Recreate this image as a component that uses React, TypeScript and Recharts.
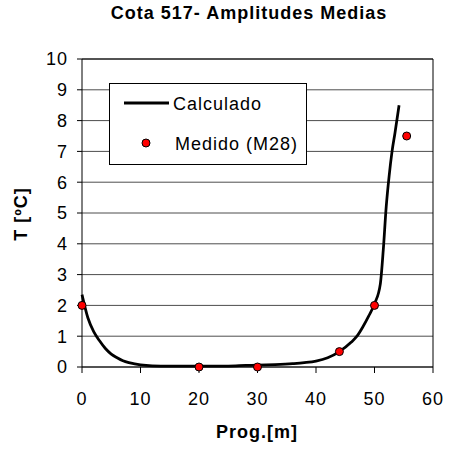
import React from "react";
import {
  ComposedChart,
  Line,
  Scatter,
  XAxis,
  YAxis,
  CartesianGrid,
  ReferenceLine,
} from "recharts";

// calculated curve
const calcX = [0, 1, 2, 3, 4, 5, 6, 7, 8, 9, 10, 12, 15, 20, 25, 28, 30, 33, 36, 38, 40, 42, 44, 46, 47, 48, 49, 50, 51, 51.5, 52, 52.5, 53, 53.5, 54.2];
const calcT = [2.35, 1.6, 1.15, 0.85, 0.6, 0.42, 0.3, 0.2, 0.14, 0.1, 0.07, 0.04, 0.03, 0.03, 0.03, 0.05, 0.06, 0.08, 0.11, 0.14, 0.19, 0.3, 0.5, 0.8, 1.0, 1.3, 1.65, 2.05, 2.7, 3.8, 5.2, 6.2, 7.0, 7.6, 8.5];

// measured points (M28)
const medX = [0, 20, 30, 44, 50, 55.5];
const medT = [2, 0, 0, 0.5, 2, 7.5];

const xTicks = [0, 10, 20, 30, 40, 50, 60];
const yTicks = [0, 1, 2, 3, 4, 5, 6, 7, 8, 9, 10];

const calcData = calcX.map((x, i) => ({ x, t: calcT[i] }));
const medData = medX.map((x, i) => ({ x, t: medT[i] }));

const font = "'Liberation Sans', Arial, sans-serif";
const tickStyle = { fill: "#000", fontSize: 18, fontFamily: font, letterSpacing: 1 };

const RedDot = (props: any) => (
  <circle cx={props.cx} cy={props.cy} r={4} fill="#ff0000" stroke="#000" strokeWidth={1} />
);

export default function App() {
  return (
    <div style={{ position: "absolute", left: 0, top: 0, width: 455, height: 450, background: "#fff" }}>
      <ComposedChart
        width={455}
        height={450}
        margin={{ top: 59, right: 22, bottom: 23, left: 0 }}
      >
        <CartesianGrid vertical={false} stroke="#000" strokeOpacity={0.7} />
        <XAxis
          type="number"
          dataKey="x"
          domain={[0, 60]}
          ticks={xTicks}
          height={60}
          tickSize={6}
          tickMargin={19}
          tick={tickStyle}
          stroke="#000"
        />
        <YAxis
          type="number"
          dataKey="t"
          domain={[0, 10]}
          ticks={yTicks}
          width={82}
          tickSize={5}
          tickMargin={9}
          tick={tickStyle}
          stroke="#000"
        />
        <ReferenceLine x={60} stroke="#000" />
        <ReferenceLine y={10} stroke="#000" />
        <Line
          data={calcData}
          dataKey="t"
          type="monotone"
          stroke="#000"
          strokeWidth={2.75}
          dot={false}
          isAnimationActive={false}
        />
        <Scatter data={medData} dataKey="t" shape={RedDot} isAnimationActive={false} />
      </ComposedChart>
      <svg
        width={455}
        height={450}
        style={{ position: "absolute", left: 0, top: 0, pointerEvents: "none" }}
        fontFamily={font}
      >
        <text x={249} y={19} textAnchor="middle" fontSize={18} fontWeight="bold" letterSpacing={1}>
          Cota 517- Amplitudes Medias
        </text>
        <text x={257} y={438} textAnchor="middle" fontSize={18} fontWeight="bold" letterSpacing={1}>
          Prog.[m]
        </text>
        <text
          x={27}
          y={214}
          transform="rotate(-90 27 214)"
          textAnchor="middle"
          fontSize={18}
          fontWeight="bold"
          letterSpacing={1}
        >
          T [ºC]
        </text>
        <rect x={109.5} y={83.5} width={197} height={81} fill="#fff" stroke="#000" />
        <line x1={124} y1={103} x2={169} y2={103} stroke="#000" strokeWidth={3} />
        <text x={173} y={110} fontSize={18} letterSpacing={1}>
          Calculado
        </text>
        <circle cx={146} cy={143} r={4} fill="#ff0000" stroke="#000" strokeWidth={1} />
        <text x={175} y={150} fontSize={18} letterSpacing={1}>
          Medido (M28)
        </text>
      </svg>
    </div>
  );
}
